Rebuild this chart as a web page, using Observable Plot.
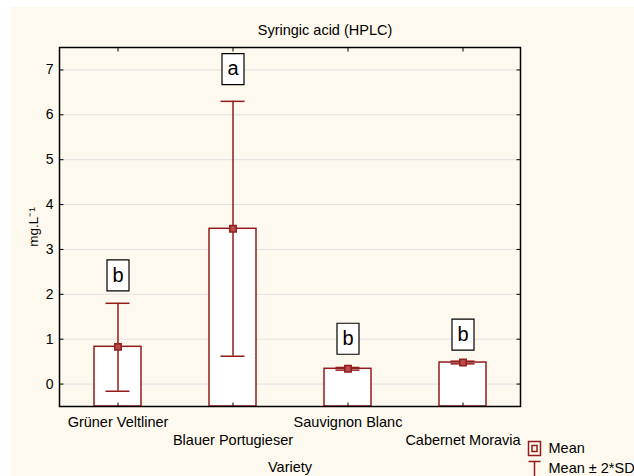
<!DOCTYPE html>
<html>
<head>
<meta charset="utf-8">
<script src="https://cdn.jsdelivr.net/npm/d3@7"></script>
<script src="https://cdn.jsdelivr.net/npm/@observablehq/plot@0.6"></script>
<style>
  html, body { margin: 0; padding: 0; background: #ffffff; }
  #wrap { position: relative; width: 634px; height: 476px; overflow: hidden; }
  #panel { position: absolute; left: 11px; top: 7px; right: 0; bottom: 0; background: #fdf9ee; }
  #chart { position: absolute; left: 0; top: 0; }
</style>
</head>
<body>
<div id="wrap"><div id="panel"></div><div id="chart"></div></div>
<script>
// Syringic acid (HPLC) by grape variety: mean with ±2·SD whiskers
const varieties = ["Grüner Veltliner", "Blauer Portugieser", "Sauvignon Blanc", "Cabernet Moravia"];
const means     = [0.83, 3.46, 0.34, 0.48];
const lowerSD   = [-0.16, 0.62, 0.31, 0.45];
const upperSD   = [1.80, 6.30, 0.37, 0.51];
const groups    = ["b", "a", "b", "b"];
const groupPos  = [2.42, 7.02, 1.01, 1.10];
const yTicks    = [0, 1, 2, 3, 4, 5, 6, 7];
const yDomain   = [-0.5, 7.5];

const rows = varieties.map((v, i) => ({
  variety: v, mean: means[i], lower: lowerSD[i], upper: upperSD[i],
  group: groups[i], groupY: groupPos[i], row: i % 2
}));

const red = "#921c1c";
const font = "'Liberation Sans', Arial, Helvetica, sans-serif";

// framed box behind the group letters
const letterBox = { draw(ctx) { ctx.rect(-11, -15.5, 22, 31); } };
// inward tick glyphs for the frame
const tickRight = { draw(ctx) { ctx.moveTo(0, 0); ctx.lineTo(4, 0); } };
const tickLeft  = { draw(ctx) { ctx.moveTo(0, 0); ctx.lineTo(-4, 0); } };
const tickUp    = { draw(ctx) { ctx.moveTo(0, 0); ctx.lineTo(0, -4); } };
const tickDown  = { draw(ctx) { ctx.moveTo(0, 0); ctx.lineTo(0, 4); } };
// legend glyphs
const outerSquare = { draw(ctx) { ctx.rect(-6, -7, 12, 14); } };
const innerSquare = { draw(ctx) { ctx.rect(-2.5, -3, 5, 6); } };
const whiskerIcon = { draw(ctx) {
  ctx.moveTo(-6, -8); ctx.lineTo(6, -8);
  ctx.moveTo(0, -8); ctx.lineTo(0, 9);
  ctx.moveTo(-6, 9); ctx.lineTo(6, 9);
} };

const tickStyle = { stroke: "black", strokeWidth: 1, fill: "none" };
const label = { lineAnchor: "middle", fill: "black" };

const chart = Plot.plot({
  width: 634,
  height: 476,
  marginLeft: 59,
  marginRight: 114,
  marginTop: 47,
  marginBottom: 70,
  x: { type: "band", domain: varieties, padding: 0, axis: null },
  y: { domain: yDomain, axis: null },
  style: { fontFamily: font, fontSize: "14.5px", background: "transparent", color: "black", overflow: "visible" },
  marks: [
    Plot.ruleY(yTicks, { y: d => d, stroke: "#e2e2e2", strokeWidth: 1 }),
    Plot.barY(rows, { x: "variety", y1: yDomain[0], y2: "mean", fill: "white", stroke: red, strokeWidth: 1.5, insetLeft: 34, insetRight: 34 }),
    Plot.ruleX(rows, { x: "variety", y1: "lower", y2: "upper", stroke: red, strokeWidth: 1.5 }),
    Plot.tickY(rows, { x: "variety", y: "upper", stroke: red, strokeWidth: 1.5, inset: 45.5 }),
    Plot.tickY(rows, { x: "variety", y: "lower", stroke: red, strokeWidth: 1.5, inset: 45.5 }),
    Plot.dot(rows, { x: "variety", y: "mean", symbol: "square", r: 3.6, stroke: red, fill: "#b84c4c", strokeWidth: 1.5 }),
    Plot.dot(rows, { x: "variety", y: "groupY", symbol: letterBox, stroke: "black", strokeWidth: 1.2, fill: "white" }),
    Plot.text(rows, { x: "variety", y: "groupY", text: "group", fontSize: 20, ...label }),
    Plot.frame({ stroke: "black", strokeWidth: 1.5 }),
    // inward ticks on all four sides
    Plot.dot(yTicks, { y: d => d, frameAnchor: "left", symbol: tickRight, ...tickStyle }),
    Plot.dot(yTicks, { y: d => d, frameAnchor: "right", symbol: tickLeft, ...tickStyle }),
    Plot.dot(varieties, { x: d => d, frameAnchor: "bottom", symbol: tickUp, ...tickStyle }),
    Plot.dot(varieties, { x: d => d, frameAnchor: "top", symbol: tickDown, ...tickStyle }),
    Plot.text(yTicks, { y: d => d, text: d => String(d), frameAnchor: "left", dx: -6, textAnchor: "end", fontSize: 14, ...label }),
    // staggered category labels
    Plot.text(rows.filter(d => d.row === 0), { x: "variety", text: "variety", frameAnchor: "bottom", dy: 16, textAnchor: "middle", ...label }),
    Plot.text(rows.filter(d => d.row === 1), { x: "variety", text: "variety", frameAnchor: "bottom", dy: 34, textAnchor: "middle", ...label }),
    Plot.text(["Variety"], { frameAnchor: "bottom", dy: 61, textAnchor: "middle", ...label }),
    Plot.text(["mg.L⁻¹"], { frameAnchor: "left", dx: -26, rotate: -90, textAnchor: "middle", fontSize: 13.5, ...label }),
    Plot.text(["Syringic acid (HPLC)"], { frameAnchor: "top", dx: 35, dy: -17, textAnchor: "middle", ...label }),
    // legend
    Plot.dot([0], { frameAnchor: "bottom-right", dx: 14, dy: 42, symbol: outerSquare, stroke: red, strokeWidth: 1.5, fill: "none" }),
    Plot.dot([0], { frameAnchor: "bottom-right", dx: 14, dy: 42, symbol: innerSquare, stroke: red, strokeWidth: 1.5, fill: "none" }),
    Plot.text(["Mean"], { frameAnchor: "bottom-right", dx: 28, dy: 42, textAnchor: "start", ...label }),
    Plot.dot([0], { frameAnchor: "bottom-right", dx: 14, dy: 63, symbol: whiskerIcon, stroke: red, strokeWidth: 1.5, fill: "none" }),
    Plot.text(["Mean ± 2*SD"], { frameAnchor: "bottom-right", dx: 28, dy: 62, textAnchor: "start", ...label })
  ]
});

document.getElementById("chart").append(chart);
</script>
</body>
</html>
